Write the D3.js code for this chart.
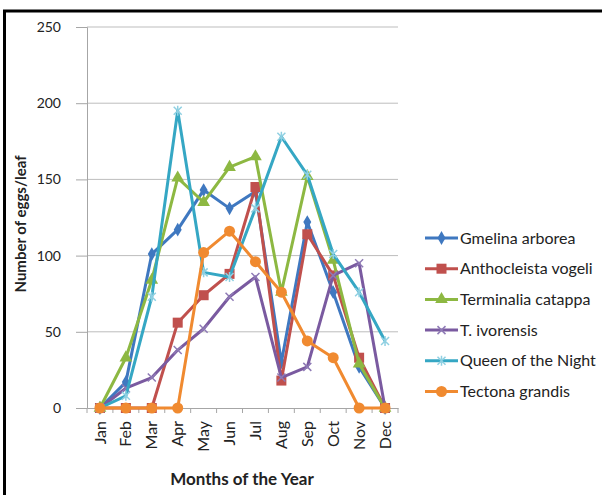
<!DOCTYPE html>
<html><head><meta charset="utf-8">
<script src="https://cdn.jsdelivr.net/npm/d3@7"></script>
<style>body{margin:0;background:#fff}svg{display:block}</style>
</head><body>
<svg id="c" width="602" height="495"></svg>
<script>
const months = ["Jan","Feb","Mar","Apr","May","Jun","Jul","Aug","Sep","Oct","Nov","Dec"];
const yTicks = [0,50,100,150,200,250];
const seriesNames = ["Gmelina arborea","Anthocleista vogeli","Terminalia catappa","T. ivorensis","Queen of the Night","Tectona grandis"];
const gmelina     = [0,17,101,117,143,131,142,30,122,76,27,0];
const anthocleista= [0,0,0,56,74,88,145,18,114,87,33,0];
const terminalia  = [0,33,84,151,135,158,165,76,152,97,29,0];
const ivorensis   = [0,13,20,38,52,73,86,20,27,87,95,0];
const queen       = [0,8,73,195,89,86,131,178,153,101,76,44];
const tectona     = [0,0,0,0,102,116,96,76,44,33,0,0];
const seriesValues = [gmelina, anthocleista, terminalia, ivorensis, queen, tectona];
const colors = ["#3F78C0","#C0504D","#8DB842","#7A5AA0","#35A7C4","#F08A30"];
const markerColors = ["#3F78C0","#C0504D","#8DB842","#8E7AB5","#8FD0E2","#F08A30"];
const markers = ["diamond","square","triangle","x","star","circle"];

const svg = d3.select("#c");
const font = "Lato, 'Open Sans', sans-serif";
const L = 87, R = 398, T = 27, B = 408;
const x = d3.scaleBand().domain(months).range([L, R]);
const y = d3.scaleLinear().domain([0,250]).range([B, T]);
const cx = m => x(m) + x.bandwidth()/2;

// border
svg.append("rect").attr("x",4.5).attr("y",11).attr("width",700).attr("height",600)
  .attr("fill","none").attr("stroke","#000").attr("stroke-width",3);

// gridlines
svg.append("g").selectAll("line").data(yTicks.filter(d=>d>0)).join("line")
  .attr("x1",L).attr("x2",R).attr("y1",d=>y(d)).attr("y2",d=>y(d))
  .attr("stroke","#BDBDBD").attr("stroke-width",1);

// y axis
const ya = svg.append("g").attr("transform",`translate(${L},0)`)
  .call(d3.axisLeft(y).tickValues(yTicks).tickSize(11).tickPadding(15));
ya.select(".domain").attr("stroke","#A6A6A6");
ya.selectAll(".tick line").attr("stroke","#A6A6A6");
ya.selectAll("text").attr("font-family",font).attr("font-size",14).attr("fill","#222");

// x axis
const xa = svg.append("g").attr("transform",`translate(0,${B})`)
  .call(d3.axisBottom(x).tickSize(0).tickPadding(0));
xa.select(".domain").attr("stroke","#A6A6A6");
xa.selectAll("text").attr("font-family",font).attr("font-size",16).attr("fill","#222")
  .attr("text-anchor","end").attr("dy","0.35em")
  .attr("transform","translate(0,13) rotate(-90)").attr("x",0).attr("y",0);
// category boundary ticks
svg.append("g").selectAll("line").data(d3.range(months.length+1)).join("line")
  .attr("x1",i=>L+i*x.step()).attr("x2",i=>L+i*x.step())
  .attr("y1",B).attr("y2",B+5).attr("stroke","#A6A6A6");

// axis titles
svg.append("text").attr("transform",`translate(26,224) rotate(-90)`)
  .attr("text-anchor","middle").attr("font-family",font).attr("font-weight","bold")
  .attr("font-size",15).attr("fill","#222").text("Number of eggs/leaf");
svg.append("text").attr("x",242).attr("y",485)
  .attr("text-anchor","middle").attr("font-family",font).attr("font-weight","bold")
  .attr("font-size",17).attr("fill","#222").text("Months of the Year");

function drawMarker(g, type, px, py, color, mcolor){
  if(type==="diamond") g.append("path").attr("d",d3.symbol(d3.symbolDiamond,55)()).attr("transform",`translate(${px},${py})`).attr("fill",color);
  else if(type==="square") g.append("rect").attr("x",px-5).attr("y",py-5).attr("width",10).attr("height",10).attr("fill",color);
  else if(type==="triangle") g.append("path").attr("d",d3.symbol(d3.symbolTriangle,70)()).attr("transform",`translate(${px},${py})`).attr("fill",color);
  else if(type==="circle") g.append("circle").attr("cx",px).attr("cy",py).attr("r",5.5).attr("fill",color);
  else if(type==="x") g.append("path").attr("d",`M${px-4},${py-4}L${px+4},${py+4}M${px-4},${py+4}L${px+4},${py-4}`).attr("stroke",mcolor).attr("stroke-width",1.5);
  else if(type==="star") g.append("path").attr("d",`M${px-4},${py-4}L${px+4},${py+4}M${px-4},${py+4}L${px+4},${py-4}M${px},${py-5}L${px},${py+5}`).attr("stroke",mcolor).attr("stroke-width",1.5);
}

const line = d3.line().x((d,i)=>cx(months[i])).y(d=>y(d));
seriesValues.forEach((vals, s)=>{
  const g = svg.append("g");
  g.append("path").datum(vals).attr("d",line).attr("fill","none")
    .attr("stroke",colors[s]).attr("stroke-width",3).attr("stroke-linejoin","round");
  vals.forEach((v,i)=>drawMarker(g, markers[s], cx(months[i]), y(v), colors[s], markerColors[s]));
});

// legend
const lg = svg.append("g");
seriesNames.forEach((name,s)=>{
  const ly = 238 + s*30.7;
  lg.append("line").attr("x1",425).attr("x2",458).attr("y1",ly).attr("y2",ly)
    .attr("stroke",colors[s]).attr("stroke-width",3);
  drawMarker(lg, markers[s], 441.5, ly, colors[s], markerColors[s]);
  lg.append("text").attr("x",460).attr("y",ly).attr("dy","0.35em")
    .attr("font-family",font).attr("font-size",16).attr("fill","#222").text(name);
});
</script>
</body></html>
